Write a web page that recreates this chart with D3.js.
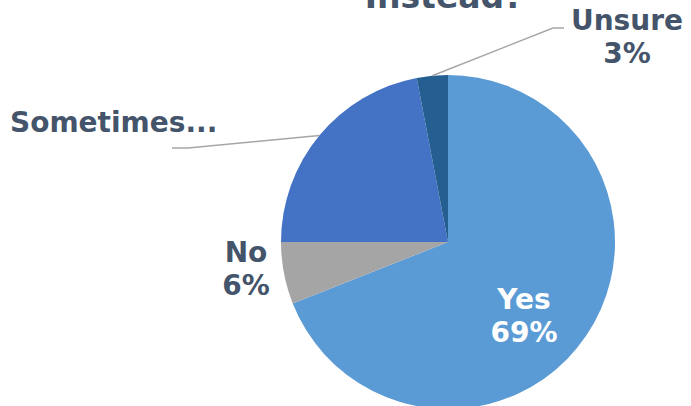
<!DOCTYPE html>
<html>
<head>
<meta charset="utf-8">
<script src="https://cdn.jsdelivr.net/npm/d3@7"></script>
<style>
  html, body { margin: 0; padding: 0; background: #fff; }
  svg { display: block; }
  text { font-family: "DejaVu Sans", Verdana, sans-serif; font-weight: bold; }
</style>
</head>
<body>
<svg id="chart" width="691" height="406"></svg>
<script>
// Survey answers, clockwise from 12 o'clock
const categories = ["Yes", "No", "Sometimes...", "Unsure"];
const values = [69, 6, 22, 3];
const valueLabels = ["69%", "6%", "", "3%"];
const colors = ["#5B9BD5", "#A5A5A5", "#4472C4", "#255E91"];
const titleLine = "Instead?";

const svg = d3.select("#chart");
const cx = 448, cy = 242, r = 167;
const textColor = "#44546A";

const pie = d3.pie().sort(null).value(d => d)(values);
const arc = d3.arc().innerRadius(0).outerRadius(r);

const g = svg.append("g").attr("transform", `translate(${cx},${cy})`);
g.selectAll("path.slice")
  .data(pie)
  .join("path")
  .attr("class", "slice")
  .attr("d", arc)
  .attr("fill", (d, i) => colors[i]);

// Title (last line)
svg.append("text")
  .attr("x", 444).attr("y", 8)
  .attr("text-anchor", "middle")
  .attr("font-size", 33)
  .attr("fill", textColor)
  .text(titleLine);

// Point on the rim at the middle of a slice, in page coordinates
function rimPoint(d) {
  const a = (d.startAngle + d.endAngle) / 2;
  return [cx + r * Math.sin(a), cy - r * Math.cos(a)];
}

// Leader lines for labels placed outside the pie
const line = d3.line();
const sPt = rimPoint(pie[2]);
svg.append("path")
  .attr("d", line([sPt, [188, 148], [172, 148]]))
  .attr("fill", "none").attr("stroke", "#A6A6A6").attr("stroke-width", 1.5);
const uPt = rimPoint(pie[3]);
svg.append("path")
  .attr("d", line([uPt, [553, 28], [564, 28]]))
  .attr("fill", "none").attr("stroke", "#A6A6A6").attr("stroke-width", 1.5);

// Data labels
const labelPos = [
  { x: 524, y: 309, fill: "#FFFFFF", anchor: "middle" },
  { x: 246, y: 262, fill: textColor, anchor: "middle" },
  { x: 10, y: 132, fill: textColor, anchor: "start" },
  { x: 627, y: 30, fill: textColor, anchor: "middle" }
];
categories.forEach((c, i) => {
  const p = labelPos[i];
  const t = svg.append("text")
    .attr("x", p.x).attr("y", p.y)
    .attr("text-anchor", p.anchor)
    .attr("font-size", 28)
    .attr("fill", p.fill);
  t.append("tspan").attr("x", p.x).text(c);
  if (valueLabels[i]) {
    t.append("tspan").attr("x", p.x).attr("dy", 33).text(valueLabels[i]);
  }
});
</script>
</body>
</html>
